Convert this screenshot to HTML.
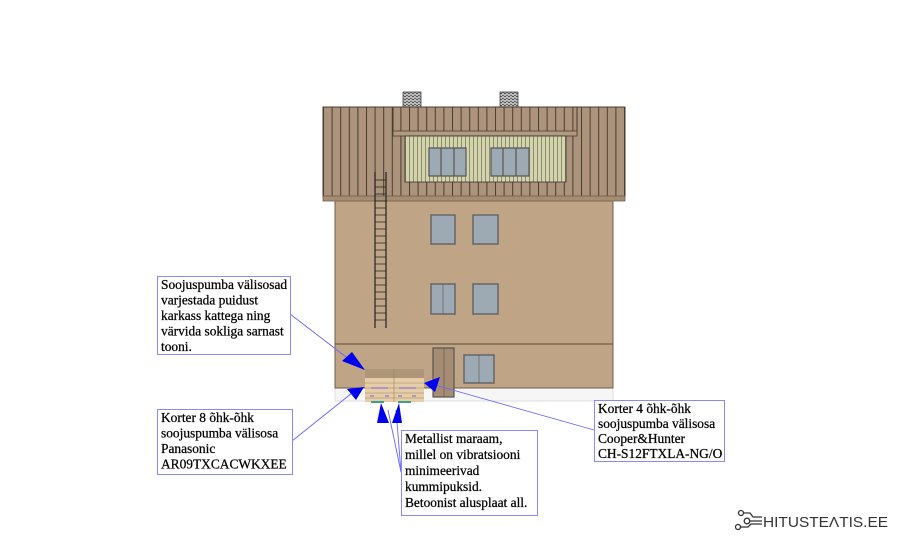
<!DOCTYPE html>
<html><head><meta charset="utf-8"><style>
html,body{margin:0;padding:0;background:#fff;width:900px;height:541px;overflow:hidden}
svg{display:block}
.t{font-family:"Liberation Serif",serif;font-size:13.4px;fill:#000;stroke:#000;stroke-width:0.25}
</style></head><body>
<svg width="900" height="541" viewBox="0 0 900 541" xmlns="http://www.w3.org/2000/svg">
<defs>
<pattern id="roof" x="323" y="0" width="8.6" height="10" patternUnits="userSpaceOnUse">
<rect width="8.6" height="10" fill="#ab937c"/><rect x="0" width="1" height="10" fill="#4a3c30"/>
</pattern>
<pattern id="dorm" x="405" y="0" width="4" height="10" patternUnits="userSpaceOnUse">
<rect width="4" height="10" fill="#d3d3ae"/><rect x="0" width="1" height="10" fill="#8d8c6c"/>
</pattern>
<pattern id="brick" width="4" height="3" patternUnits="userSpaceOnUse">
<rect width="4" height="3" fill="#bbb"/><rect width="2" height="1" fill="#555"/><rect x="2" y="2" width="2" height="1" fill="#666"/>
</pattern>
</defs>
<rect x="335" y="388" width="278" height="13" fill="#f6f6f6" stroke="#ddd" stroke-width="1"/>
<rect x="335" y="200" width="278" height="188" fill="#bfa585" stroke="#6e5e4c" stroke-width="1"/>
<line x1="335" y1="344" x2="613" y2="344" stroke="#6e5e4c" stroke-width="1.2"/>
<rect x="403" y="92" width="18" height="17" fill="url(#brick)" stroke="#444" stroke-width="0.8"/>
<rect x="500" y="92" width="18" height="17" fill="url(#brick)" stroke="#444" stroke-width="0.8"/>
<rect x="323" y="107" width="302" height="90" fill="url(#roof)" stroke="#4a3c30" stroke-width="1"/>
<rect x="323" y="196" width="302" height="5" fill="#a58c72" stroke="#6e5e4c" stroke-width="0.8"/>
<line x1="393" y1="107" x2="393" y2="132" stroke="#4a3c30"/>
<line x1="577" y1="107" x2="577" y2="132" stroke="#4a3c30"/>
<rect x="393" y="131" width="184" height="5" fill="#b29a80" stroke="#4a3c30" stroke-width="0.8"/>
<rect x="405" y="136" width="161" height="46" fill="url(#dorm)" stroke="#333" stroke-width="0.8"/>
<g stroke="#555" stroke-width="1.2" fill="#9eaab3">
<rect x="429" y="148" width="37" height="28"/><line x1="441" y1="148" x2="441" y2="176"/><line x1="454" y1="148" x2="454" y2="176"/>
<rect x="491" y="148" width="38" height="28"/><line x1="503" y1="148" x2="503" y2="176"/><line x1="516" y1="148" x2="516" y2="176"/>
</g>
<g stroke="#222" stroke-width="1.2">
<line x1="375" y1="172" x2="375" y2="328"/><line x1="386" y1="172" x2="386" y2="328"/>
<path d="M375 180H386M375 187H386M375 194H386M375 201H386M375 208H386M375 215H386M375 222H386M375 229H386M375 236H386M375 243H386M375 250H386M375 257H386M375 264H386M375 271H386M375 278H386M375 285H386M375 292H386M375 299H386M375 306H386M375 313H386M375 320H386" stroke-width="0.8"/>
</g>
<g stroke="#666" stroke-width="1.5" fill="#9eaab3">
<rect x="431" y="215" width="24" height="29"/><rect x="473" y="215" width="25" height="29"/>
<rect x="431" y="284" width="24" height="30"/><rect x="473" y="284" width="25" height="30"/>
<rect x="464" y="355" width="30" height="28"/>
</g>
<line x1="443" y1="284" x2="443" y2="314" stroke="#555" stroke-width="0.6"/>
<line x1="479" y1="355" x2="479" y2="383" stroke="#555" stroke-width="0.6"/>
<rect x="433" y="348" width="21" height="49" fill="#a58c72" stroke="#555" stroke-width="1.2"/>
<line x1="444" y1="348" x2="444" y2="397" stroke="#555" stroke-width="0.6"/>
<rect x="365" y="369" width="59" height="9" fill="#ae9678"/>
<rect x="365" y="378" width="59" height="24" fill="#e6cda8"/>
<g stroke="#9a8568" stroke-width="0.6"><path d="M365 383H424M365 388H424M365 393H424M365 398H424M394 369V402"/></g>
<g stroke="#6d63d8" stroke-width="1"><path d="M371 388H388M399 388H416M370 396H374M385 396H389M398 396H402M412 396H416"/></g>
<rect x="371" y="401" width="13" height="2" fill="#3aa08a"/><rect x="398" y="401" width="13" height="2" fill="#3aa08a"/>
<g stroke="#6666ff" stroke-width="0.9" fill="none">
<polyline points="290,314 350,360"/>
<polyline points="292,441 352,393"/>
<polyline points="401,472 388,410"/>
<polyline points="401,472 396,410"/>
<polyline points="594,430 435,385"/>
</g>
<g fill="#0000ee">
<polygon points="365,370 342,361 352,352"/>
<polygon points="364,387 356,400 347,389"/>
<polygon points="381,403 377,423 389,423"/>
<polygon points="399,403 392,423 402,423"/>
<polygon points="424,383 440,377 435,392"/>
</g>
<g fill="#fff" stroke="#8888ff" stroke-width="1">
<rect x="157.5" y="276.5" width="133" height="78"/>
<rect x="157.5" y="409.5" width="135" height="65"/>
<rect x="401.5" y="430.5" width="136" height="85"/>
<rect x="594.5" y="400.5" width="130" height="61"/>
</g>
<text class="t" x="161" y="289">Soojuspumba välisosad</text>
<text class="t" x="161" y="304.5">varjestada puidust</text>
<text class="t" x="161" y="320">karkass kattega ning</text>
<text class="t" x="161" y="335.5">värvida sokliga sarnast</text>
<text class="t" x="161" y="351">tooni.</text>
<text class="t" x="161" y="422">Korter 8 õhk-õhk</text>
<text class="t" x="161" y="437.5">soojuspumba välisosa</text>
<text class="t" x="161" y="453">Panasonic</text>
<text class="t" x="161" y="468.5">AR09TXCACWKXEE</text>
<text class="t" x="405" y="443">Metallist maraam,</text>
<text class="t" x="405" y="459">millel on vibratsiooni</text>
<text class="t" x="405" y="475">minimeerivad</text>
<text class="t" x="405" y="491">kummipuksid.</text>
<text class="t" x="405" y="507">Betoonist alusplaat all.</text>
<text class="t" x="598" y="413">Korter 4 õhk-õhk</text>
<text class="t" x="598" y="428">soojuspumba välisosa</text>
<text class="t" x="598" y="443">Cooper&amp;Hunter</text>
<text class="t" x="598" y="458">CH-S12FTXLA-NG/O</text>
<g stroke="#333" stroke-width="1.3" fill="none">
<circle cx="741" cy="513" r="2.5"/><circle cx="738" cy="527" r="2.5"/><circle cx="747" cy="521" r="2.8"/>
<path d="M743.5 513H750L753 517H762M740.5 527H748L751 524H762M750 521H762"/>
</g>
<text x="763" y="527" textLength="125" lengthAdjust="spacingAndGlyphs" style="font-family:'Liberation Sans',sans-serif;font-size:15px;fill:#333">HITUSTEΛTIS.EE</text>
</svg>
</body></html>
